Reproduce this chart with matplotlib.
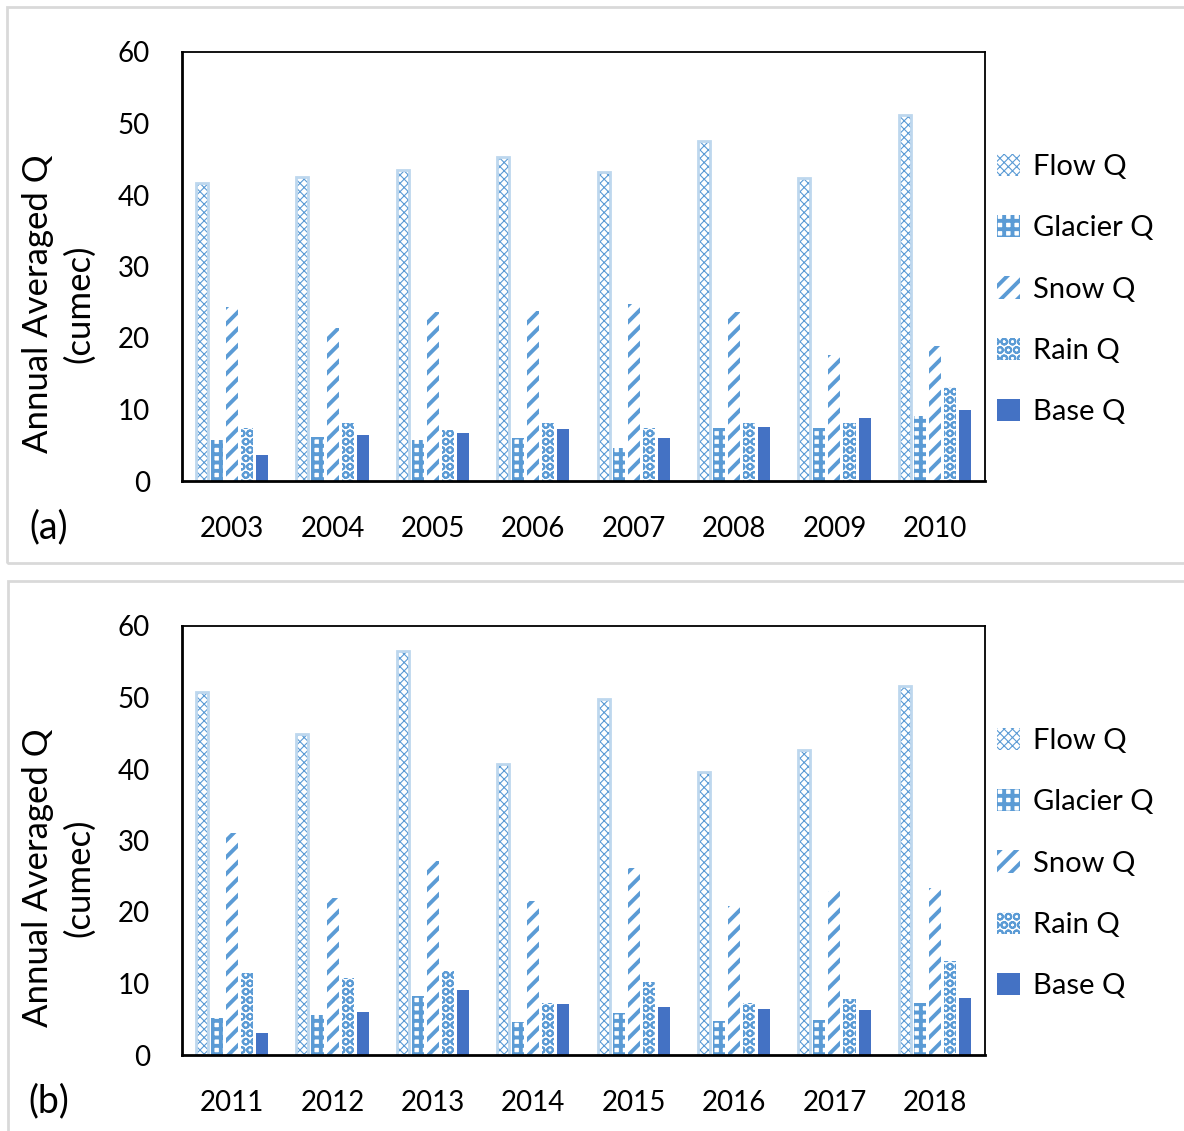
import numpy as np
import matplotlib
matplotlib.use('Agg')
import matplotlib.pyplot as plt
from matplotlib.patches import Rectangle

plt.rcParams['font.family'] = ['Lato', 'DejaVu Sans']

# values (cumec)
years_a = ['2003', '2004', '2005', '2006', '2007', '2008', '2009', '2010']
flow_a = [41.7, 42.5, 43.5, 45.3, 43.2, 47.6, 42.4, 51.2]
glacier_a = [5.7, 6.2, 5.7, 6.0, 4.6, 7.4, 7.4, 9.1]
snow_a = [24.3, 21.4, 23.6, 23.8, 24.8, 23.6, 17.6, 18.9]
rain_a = [7.4, 8.1, 7.1, 8.1, 7.4, 8.1, 8.1, 13.2]
base_a = [3.6, 6.4, 6.7, 7.3, 6.0, 7.6, 8.8, 9.9]

years_b = ['2011', '2012', '2013', '2014', '2015', '2016', '2017', '2018']
flow_b = [50.8, 44.9, 56.5, 40.7, 49.8, 39.6, 42.6, 51.6]
glacier_b = [5.2, 5.6, 8.3, 4.6, 5.9, 4.8, 4.9, 7.3]
snow_b = [31.0, 22.0, 27.2, 21.6, 26.2, 20.9, 23.0, 23.3]
rain_b = [11.4, 10.7, 11.8, 7.3, 10.2, 7.3, 7.9, 13.2]
base_b = [3.1, 6.0, 9.1, 7.1, 6.7, 6.4, 6.3, 8.0]

labels = ['Flow Q', 'Glacier Q', 'Snow Q', 'Rain Q', 'Base Q']

W, H = 1184, 1131
fig = plt.figure(figsize=(W / 100, H / 100), dpi=100)

blue = '#5B9BD5'
light = '#BDD7EE'
dark = '#4472C4'

# hatch pattern and hatch line width for Flow, Glacier, Snow, Rain
styles = [('xxxx', 0.8), ('++', 2.8), ('//', 2.8), ('OO', 1.4)]


def hbar(ax, x, y, hatch, hlw, color=blue):
    with plt.rc_context({'hatch.linewidth': hlw}):
        b = ax.bar(x, y, 0.12, facecolor='white', edgecolor=color,
                   hatch=hatch, linewidth=0)
    for p in b:
        p._hatch_linewidth = hlw
    return b


def panel(bottom_px, years, flow, glacier, snow, rain, base, tag, frame):
    fx, fy, fw, fh = frame
    fig.patches.append(Rectangle((fx / W, 1 - (fy + fh) / H), fw / W, fh / H,
                                 transform=fig.transFigure, facecolor='none',
                                 edgecolor='#D9D9D9', linewidth=2))
    ax = fig.add_axes([182 / W, 1 - bottom_px / H, 803 / W, 429 / H])
    x = np.arange(len(years))
    off = 0.15

    h1 = hbar(ax, x - 2 * off, flow, *styles[0])
    ax.bar(x - 2 * off, flow, 0.12, fill=False, edgecolor=light, linewidth=2)
    h2 = hbar(ax, x - off, glacier, *styles[1])
    h3 = hbar(ax, x, snow, *styles[2])
    h4 = hbar(ax, x + off, rain, *styles[3])
    h5 = ax.bar(x + 2 * off, base, 0.12, color=dark, linewidth=0)

    ax.set_xlim(-0.5, len(years) - 0.5)
    ax.set_ylim(0, 60)
    ax.set_yticks(range(0, 61, 10))
    ax.set_xticks(x)
    ax.set_xticklabels(years)
    ax.tick_params(length=0, labelsize=20)
    ax.tick_params(axis='y', pad=23)
    ax.tick_params(axis='x', pad=25)
    for s in ['top', 'right']:
        ax.spines[s].set_linewidth(1.3)
    for s in ['left', 'bottom']:
        ax.spines[s].set_linewidth(2)

    leg = ax.legend([h1, h2, h3, h4, h5], labels, loc='upper left',
                    bbox_to_anchor=(1.0, 0.79), frameon=False, fontsize=21,
                    handlelength=0.8, handleheight=0.8, handletextpad=0.45,
                    labelspacing=1.2, borderaxespad=0)
    for p, (h, lw) in zip(leg.get_patches()[:4], styles):
        p._hatch_linewidth = lw

    top = bottom_px - 429
    fig.text(59 / W, 1 - (top + 252) / H, 'Annual Averaged Q\n(cumec)',
             rotation=90, ha='center', va='center', fontsize=25,
             linespacing=1.35, multialignment='center')
    fig.text(49 / W, 1 - (bottom_px + 46) / H, tag, ha='center',
             va='center', fontsize=27)
    return ax


panel(481, years_a, flow_a, glacier_a, snow_a, rain_a, base_a, '(a)',
      (7, 7, 1190, 556))
panel(1055, years_b, flow_b, glacier_b, snow_b, rain_b, base_b, '(b)',
      (8, 581, 1190, 560))

fig.savefig('out.png', dpi=100)
